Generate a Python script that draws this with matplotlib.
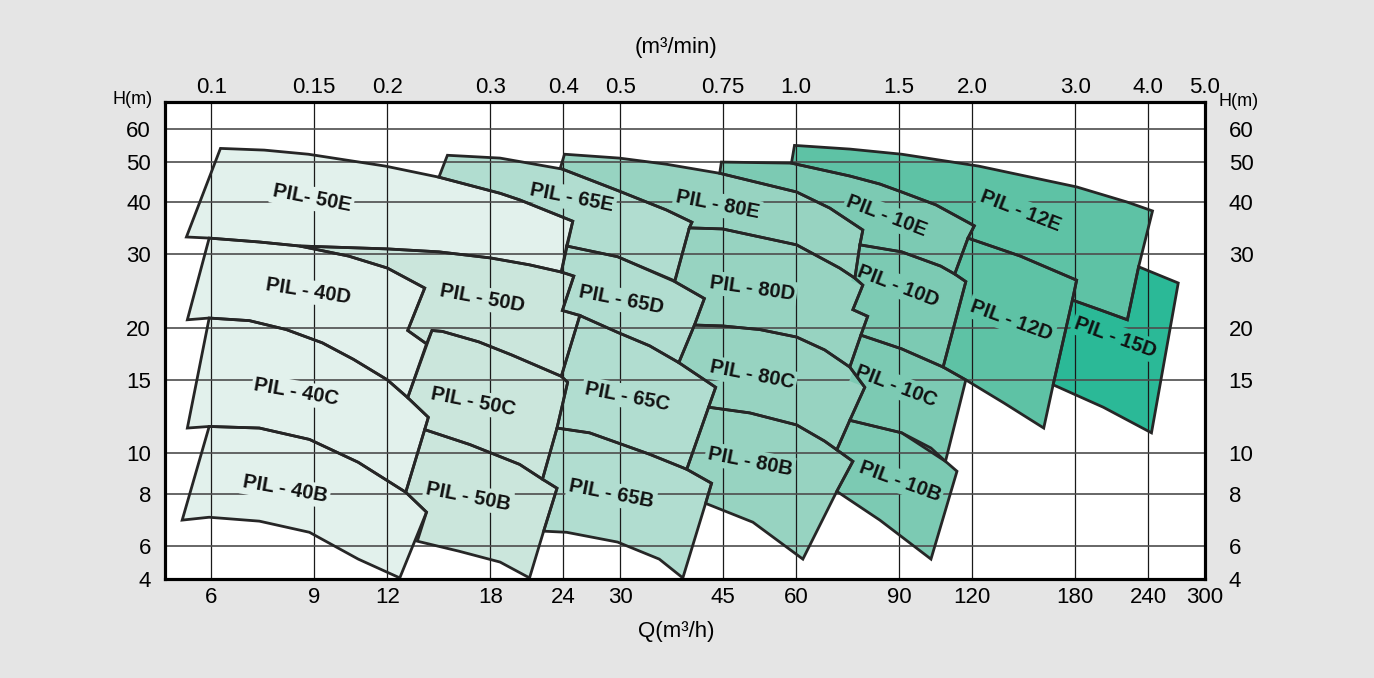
import matplotlib
matplotlib.use("Agg")
import matplotlib.pyplot as plt
from matplotlib.patches import Polygon
from matplotlib.ticker import NullLocator

# pump ranges, outline points as Q (m3/h) and H (m)
q_50e = [6.22, 7.39, 8.79, 11.9, 14.7, 18.7, 20.2, 24.9, 23.8, 21, 18, 14.7, 12, 8.49, 7.25, 5.95, 5.44]
h_50e = [53.8, 53.3, 52.1, 48.8, 45.9, 42, 40.5, 36, 27.2, 28.3, 29.4, 30.4, 30.9, 31.4, 32.1, 32.8, 33]
q_40d = [5.95, 7.25, 8.49, 10.3, 12, 13.9, 13, 14, 13, 12, 10.5, 9.29, 8.06, 6.97, 5.95, 5.46]
h_40d = [32.8, 32.1, 31.4, 29.7, 27.8, 24.9, 19.7, 18.3, 13.6, 15, 16.8, 18.4, 19.8, 20.8, 21.1, 20.9]
q_40c = [5.95, 6.97, 8.06, 9.29, 10.5, 12, 13, 14.1, 12.9, 10.7, 8.83, 7.25, 5.95, 5.46]
h_40c = [21.1, 20.8, 19.8, 18.4, 16.8, 15, 13.6, 12.2, 8.07, 9.52, 10.8, 11.5, 11.6, 11.5]
q_40b = [5.95, 7.25, 8.83, 10.7, 12.9, 14, 12.6, 10.7, 8.83, 7.25, 5.95, 5.35]
h_40b = [11.6, 11.5, 10.8, 9.52, 8.07, 7.23, 5.03, 5.58, 6.47, 6.88, 7.03, 6.92]
q_50d = [8.49, 12, 14.7, 18, 21, 23.8, 25, 23.9, 25.6, 23.8, 19.6, 17.2, 14.9, 14.3, 14, 13, 13.9, 12, 10.3]
h_50d = [31.4, 30.9, 30.4, 29.4, 28.3, 27.2, 26.6, 22, 21.4, 15.3, 17.2, 18.5, 19.6, 19.7, 18.3, 19.7, 24.9, 27.8, 29.7]
q_50c = [14.3, 14.9, 17.2, 19.6, 23.8, 24.4, 23.4, 22.1, 20.2, 16.6, 13.9, 14.1, 13]
h_50c = [19.7, 19.6, 18.5, 17.2, 15.3, 14.8, 11.5, 8.67, 9.41, 10.5, 11.4, 12.2, 13.6]
q_50b = [13.9, 16.6, 20.2, 22.1, 23.4, 22.2, 21, 18.7, 15.9, 13.5, 14, 12.9]
h_50b = [11.4, 10.5, 9.41, 8.67, 8.25, 6.51, 5.03, 5.49, 5.83, 6.16, 7.23, 8.07]
q_65e = [15.2, 18.7, 23.9, 29.9, 36, 39.8, 39.4, 37.2, 29.7, 24.3, 24.9, 20.2, 18.7, 14.7]
h_65e = [51.8, 51, 48, 42.5, 38.3, 35.8, 34.7, 25.9, 29.6, 31.4, 36, 40.5, 42, 45.9]
q_65d = [24.3, 29.7, 37.2, 41.8, 40.2, 37.8, 33.7, 29.7, 25.6, 23.9, 25, 23.8]
h_65d = [31.4, 29.6, 25.8, 23.5, 20.3, 16.5, 18.1, 19.5, 21.4, 22, 26.6, 27.2]
q_65c = [25.6, 29.7, 33.7, 37.8, 43.7, 42.5, 39, 33.7, 29.7, 26.6, 23.4, 24.4, 23.8]
h_65c = [21.4, 19.5, 18.1, 16.5, 14.4, 12.9, 9.16, 9.95, 10.6, 11.2, 11.5, 14.8, 15.3]
q_65b = [23.4, 26.6, 29.7, 33.7, 39, 43, 42, 38.4, 35, 29.7, 24.3, 22.2, 23.4, 22.1]
h_65b = [11.5, 11.2, 10.6, 9.95, 9.16, 8.48, 7.59, 5.03, 5.58, 6.13, 6.47, 6.51, 8.25, 8.67]
q_80e = [24.1, 29.9, 36, 44.4, 60.1, 68.5, 78, 77.1, 75.6, 71.2, 60.1, 44.9, 39.4, 39.8, 36, 29.9, 23.7]
h_80e = [52.1, 51, 49.3, 46.9, 42.3, 38.7, 34.3, 31.6, 26.3, 27.8, 31.6, 34.5, 34.7, 35.8, 38.3, 42.5, 48.2]
q_80d = [39.4, 44.9, 60.1, 71.2, 75.6, 78, 75, 79.5, 77.4, 74.1, 67.1, 60.1, 52, 44.9, 40.2, 41.8, 37.2]
h_80d = [34.7, 34.5, 31.6, 27.8, 26.3, 25.3, 22.1, 21.3, 19.2, 16.1, 17.7, 19, 19.8, 20.2, 20.3, 23.5, 25.8]
q_80c = [40.2, 44.9, 52, 60.1, 67.1, 74.1, 78.6, 74.1, 70.4, 67.1, 60.1, 50, 42.5, 43.7, 37.8]
h_80c = [20.3, 20.2, 19.8, 19, 17.7, 16.1, 14.4, 12, 10.2, 10.7, 11.7, 12.5, 12.9, 14.4, 16.5]
q_80b = [42.5, 50, 60.1, 67.1, 70.4, 75, 70.4, 61.6, 50.6, 42, 43, 39]
h_80b = [12.9, 12.5, 11.7, 10.7, 10.2, 9.57, 8.11, 5.58, 6.84, 7.59, 8.48, 9.16]
q_10e = [44.7, 58.9, 74.1, 83.4, 90.9, 104, 121, 118, 112, 106, 90.9, 77.1, 78, 68.5, 60.1, 44.4]
h_10e = [49.9, 49.6, 46.2, 44.2, 42.3, 39.4, 35.1, 32.8, 26.9, 28.1, 30.4, 31.6, 34.3, 38.7, 42.3, 46.9]
q_10d = [77.1, 90.9, 106, 112, 117, 107, 90.9, 77.4, 79.5, 75, 78, 75.6]
h_10d = [31.6, 30.4, 28.1, 26.9, 25.8, 16.1, 17.8, 19.2, 21.3, 22.1, 25.3, 26.3]
q_10c = [77.4, 90.9, 107, 117, 108, 90.9, 74.1, 78.6, 74.1]
h_10c = [19.2, 17.8, 16.1, 15, 9.57, 11.2, 12, 14.4, 16.1]
q_10b = [74.1, 90.9, 102, 108, 113, 102, 83.4, 70.4, 75, 70.4]
h_10b = [12, 11.2, 10.3, 9.57, 9.06, 5.58, 6.92, 8.11, 9.57, 10.2]
q_12e = [59.6, 74.1, 90.9, 123, 181, 221, 244, 231, 221, 198, 178, 181, 145, 118, 121, 104, 90.9, 83.4, 74.1, 58.9]
h_12e = [54.7, 53.6, 52.1, 48.8, 43.5, 40, 38.1, 28, 20.9, 22.1, 23.3, 26, 29.7, 32.8, 35.1, 39.4, 42.3, 44.2, 46.2, 49.6]
q_12d = [118, 145, 181, 178, 165, 159, 136, 117, 107, 117, 112]
h_12d = [32.8, 29.7, 26, 23.3, 14.6, 11.5, 13.2, 15, 16.1, 25.8, 26.9]
q_15d = [231, 270, 243, 201, 165, 178, 198, 221]
h_15d = [28, 25.6, 11.2, 12.9, 14.6, 23.3, 22.1, 20.9]

label_names = ['PIL- 50E', 'PIL - 40D', 'PIL - 40C', 'PIL - 40B', 'PIL - 50D', 'PIL - 50C', 'PIL - 50B',
               'PIL - 65E', 'PIL - 65D', 'PIL - 65C', 'PIL - 65B', 'PIL - 80E', 'PIL - 80D', 'PIL - 80C', 'PIL - 80B',
               'PIL - 10E', 'PIL - 10D', 'PIL - 10C', 'PIL - 10B', 'PIL - 12E', 'PIL - 12D', 'PIL - 15D']
label_q = [8.92, 8.79, 8.39, 8.03, 17.4, 16.8, 16.5, 24.8, 30.1, 30.8, 29, 44, 50.4, 50.4, 50, 85.7, 89.5, 88.8, 90.2, 145, 140, 211]
label_h = [40.8, 24.4, 14, 8.2, 23.5, 13.3, 7.89, 40.9, 23.3, 13.7, 7.98, 39.4, 24.9, 15.4, 9.57, 37, 25.2, 14.5, 8.57, 38.1, 20.8, 19]
label_rot = [11, 9, 10, 10, 10.5, 11, 11, 11, 11, 11, 11, 11, 8, 11, 11, 21, 21, 21, 20, 21, 20, 20]

q_ticks = [5, 6, 9, 12, 18, 24, 30, 45, 60, 90, 120, 180, 240, 300]
q_labels = ['', '6', '9', '12', '18', '24', '30', '45', '60', '90', '120', '180', '240', '300']
min_labels = ['', '0.1', '0.15', '0.2', '0.3', '0.4', '0.5', '0.75', '1.0', '1.5', '2.0', '3.0', '4.0', '5.0']
h_ticks = [5, 6, 8, 10, 15, 20, 30, 40, 50, 60]
h_labels = ['4', '6', '8', '10', '15', '20', '30', '40', '50', '60']

c40 = '#e2f1ec'
c50 = '#cbe6dc'
c65 = '#b1ddd0'
c80 = '#97d3c1'
c10 = '#7ccab3'
c12 = '#5ec2a5'
c15 = '#2bb997'

tiles = [
    (q_15d, h_15d, c15), (q_12e, h_12e, c12), (q_12d, h_12d, c12),
    (q_10e, h_10e, c10), (q_10d, h_10d, c10), (q_10c, h_10c, c10), (q_10b, h_10b, c10),
    (q_80e, h_80e, c80), (q_80d, h_80d, c80), (q_80c, h_80c, c80), (q_80b, h_80b, c80),
    (q_65e, h_65e, c65), (q_65d, h_65d, c65), (q_65c, h_65c, c65), (q_65b, h_65b, c65),
    (q_50e, h_50e, c40), (q_50d, h_50d, c50), (q_50c, h_50c, c50), (q_50b, h_50b, c50),
    (q_40d, h_40d, c40), (q_40c, h_40c, c40), (q_40b, h_40b, c40),
]
label_colors = [c40, c40, c40, c40, c50, c50, c50, c65, c65, c65, c65,
                c80, c80, c80, c80, c10, c10, c10, c10, c12, c12, c15]

plt.rcParams['font.family'] = ['Liberation Sans', 'DejaVu Sans']

fig = plt.figure(figsize=(13.74, 6.78), dpi=100, facecolor='#e5e5e5')
ax = fig.add_axes([165/1374, 99/678, 1040/1374, 477/678])
ax.set_xscale('log')
ax.set_yscale('log')
ax.set_xlim(5, 300)
ax.set_ylim(5, 69.5)

for q, h, c in tiles:
    pts = list(zip(q, h))
    ax.add_patch(Polygon(pts, closed=True, fc=c, ec='none', zorder=1))
    ax.add_patch(Polygon(pts, closed=True, fill=False, ec='#262626', lw=2.0, zorder=4, joinstyle='miter'))

for name, q, h, r, c in zip(label_names, label_q, label_h, label_rot, label_colors):
    ax.text(q, h, name, rotation=-r, rotation_mode='anchor', ha='center', va='center',
            fontsize=14.5, fontweight='bold', color='#111111',
            bbox=dict(boxstyle='square,pad=0.12', fc=c, ec='none'), zorder=3)

ax.set_axisbelow('line')
ax.set_xticks(q_ticks, q_labels)
ax.set_yticks(h_ticks, h_labels)
ax.xaxis.set_minor_locator(NullLocator())
ax.yaxis.set_minor_locator(NullLocator())
ax.xaxis.grid(True, color='#1a1a1a', lw=0.9)
ax.yaxis.grid(True, color='#4d4d4d', lw=1.2)
ax.tick_params(length=0, labelsize=16)
ax.tick_params(axis='x', pad=6)
ax.tick_params(axis='y', pad=10)
for s in ax.spines.values():
    s.set_linewidth(2.2)

# top scale in m3/min
ax_top = ax.twiny()
ax_top.set_xscale('log')
ax_top.set_xlim(5, 300)
ax_top.set_xticks(q_ticks, min_labels)
ax_top.xaxis.set_minor_locator(NullLocator())
ax_top.tick_params(length=0, labelsize=16, pad=3)

ax_r = ax.twinx()
ax_r.set_yscale('log')
ax_r.set_ylim(5, 69.5)
ax_r.set_yticks(h_ticks, h_labels)
ax_r.yaxis.set_minor_locator(NullLocator())
ax_r.tick_params(length=0, labelsize=16, pad=17)
for a in (ax_top, ax_r):
    for s in a.spines.values():
        s.set_linewidth(2.2)

fig.text(676/1374, 1 - 48/678, '(m³/min)', ha='center', va='center', fontsize=16)
fig.text(676/1374, 1 - 632/678, 'Q(m³/h)', ha='center', va='center', fontsize=16)
fig.text(153/1374, 1 - 100/678, 'H(m)', ha='right', va='center', fontsize=13)
fig.text(1219/1374, 1 - 102/678, 'H(m)', ha='left', va='center', fontsize=13)

fig.savefig('out.png')
